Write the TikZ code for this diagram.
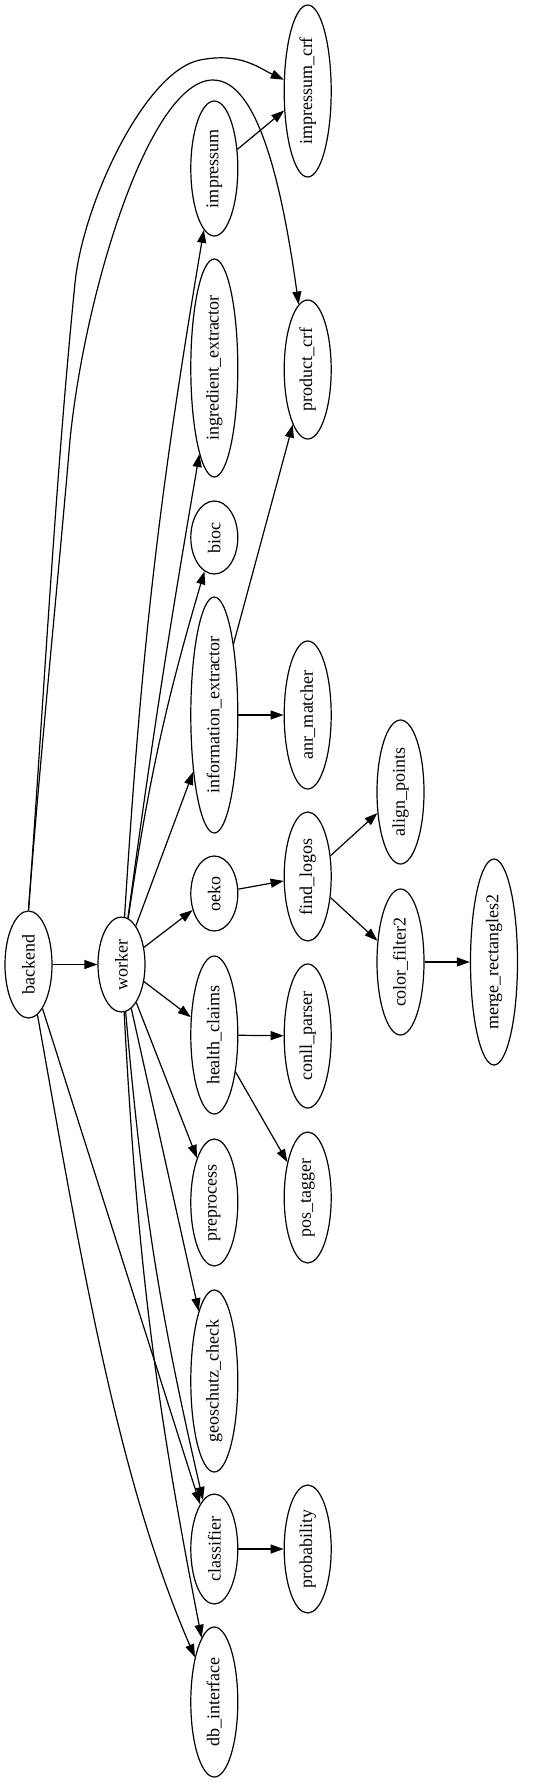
\documentclass[tikz,border=0pt]{standalone}
\usepackage{fontspec}
\setmainfont{Liberation Serif}
\usetikzlibrary{shapes.geometric,arrows.meta}
\tikzset{
	mod/.style={draw, ellipse, line width=1.2pt, minimum width=47pt, inner sep=0pt, font=\fontsize{18}{20}\selectfont},
	dep/.style={line width=1.2pt, -{Triangle[length=13pt,width=9pt]}},
}
\newcommand{\up}[1]{\rotatebox{90}{#1}}

\begin{document}
\begin{tikzpicture}[x=1pt,y=-1pt]
		%%%%% START %%%%%
		\useasboundingbox (0,0) rectangle (539,1792);
		
		\node[mod, minimum height=107pt] (backend) at (28.5,964.5) {\up{backend}};
		\node[mod, minimum height=95pt] (worker) at (121.5,964.5) {\up{worker}};
		
		\node[mod, minimum height=135pt] (impressum) at (214.3,168.5) {\up{impressum}};
		\node[mod, minimum height=218pt] (ingredient_extractor) at (214.3,368) {\up{ingredient\_extractor}};
		\node[mod, minimum height=73pt] (bioc) at (214.3,537.5) {\up{bioc}};
		\node[mod, minimum height=236pt] (information_extractor) at (214.3,715) {\up{information\_extractor}};
		\node[mod, minimum height=75pt] (oeko) at (214.3,893.5) {\up{oeko}};
		\node[mod, minimum height=158pt] (health_claims) at (214.3,1035) {\up{health\_claims}};
		\node[mod, minimum height=127pt] (preprocess) at (214.3,1202.5) {\up{preprocess}};
		\node[mod, minimum height=182pt] (geoschutz_check) at (214.3,1381) {\up{geoschutz\_check}};
		\node[mod, minimum height=110pt] (classifier) at (214.3,1549) {\up{classifier}};
		\node[mod, minimum height=150pt] (db_interface) at (214.3,1702) {\up{db\_interface}};
		
		\node[mod, minimum height=172pt] (impressum_crf) at (307.7,91) {\up{impressum\_crf}};
		\node[mod, minimum height=139pt] (product_crf) at (307.7,369.5) {\up{product\_crf}};
		\node[mod, minimum height=148pt] (anr_matcher) at (307.7,715) {\up{anr\_matcher}};
		\node[mod, minimum height=129pt] (find_logos) at (307.7,876.5) {\up{find\_logos}};
		\node[mod, minimum height=144pt] (conll_parser) at (307.7,1036) {\up{conll\_parser}};
		\node[mod, minimum height=131pt] (pos_tagger) at (307.7,1197.5) {\up{pos\_tagger}};
		\node[mod, minimum height=128pt] (probability) at (307.7,1549) {\up{probability}};
		
		\node[mod, minimum height=144pt] (align_points) at (400.5,792) {\up{align\_points}};
		\node[mod, minimum height=146pt] (color_filter2) at (400.5,962) {\up{color\_filter2}};
		\node[mod, minimum height=206pt] (merge_rectangles2) at (494,962) {\up{merge\_rectangles2}};
		
		% backend
		\draw[dep] (backend) -- (worker);
		\draw[dep] (backend.north) .. controls (43,711) and (55,483) .. (75,283) .. controls (83,203) and (145,71) .. (200,60) .. controls (240,52) and (259,68) .. (impressum_crf);
		\draw[dep] (backend.north) .. controls (38,780) and (60,560) .. (70,440) .. controls (85,290) and (150,80) .. (213,80) .. controls (258,80) and (282,185) .. (product_crf);
		\draw[dep] (backend) -- (classifier);
		\draw[dep] (backend) .. controls (81,1259) and (117,1477) .. (db_interface);
		
		% worker
		\draw[dep] (worker) to[bend left=3] (impressum);
		\draw[dep] (worker) to[bend left=1] (ingredient_extractor);
		\draw[dep] (worker) to[bend left=4] (bioc);
		\draw[dep] (worker) -- (information_extractor);
		\draw[dep] (worker) -- (oeko);
		\draw[dep] (worker) -- (health_claims);
		\draw[dep] (worker) -- (preprocess);
		\draw[dep] (worker) -- (geoschutz_check);
		\draw[dep] (worker) to[bend right=4] (classifier);
		\draw[dep] (worker) to[bend right=4] (db_interface);
		
		% rest
		\draw[dep] (impressum) -- (impressum_crf);
		\draw[dep] (information_extractor) -- (product_crf);
		\draw[dep] (information_extractor) -- (anr_matcher);
		\draw[dep] (oeko) -- (find_logos);
		\draw[dep] (find_logos) -- (align_points);
		\draw[dep] (find_logos) -- (color_filter2);
		\draw[dep] (color_filter2) -- (merge_rectangles2);
		\draw[dep] (health_claims) -- (conll_parser);
		\draw[dep] (health_claims) -- (pos_tagger);
		\draw[dep] (classifier) -- (probability);
		
		%%%%% END %%%%%
\end{tikzpicture}
\end{document}
